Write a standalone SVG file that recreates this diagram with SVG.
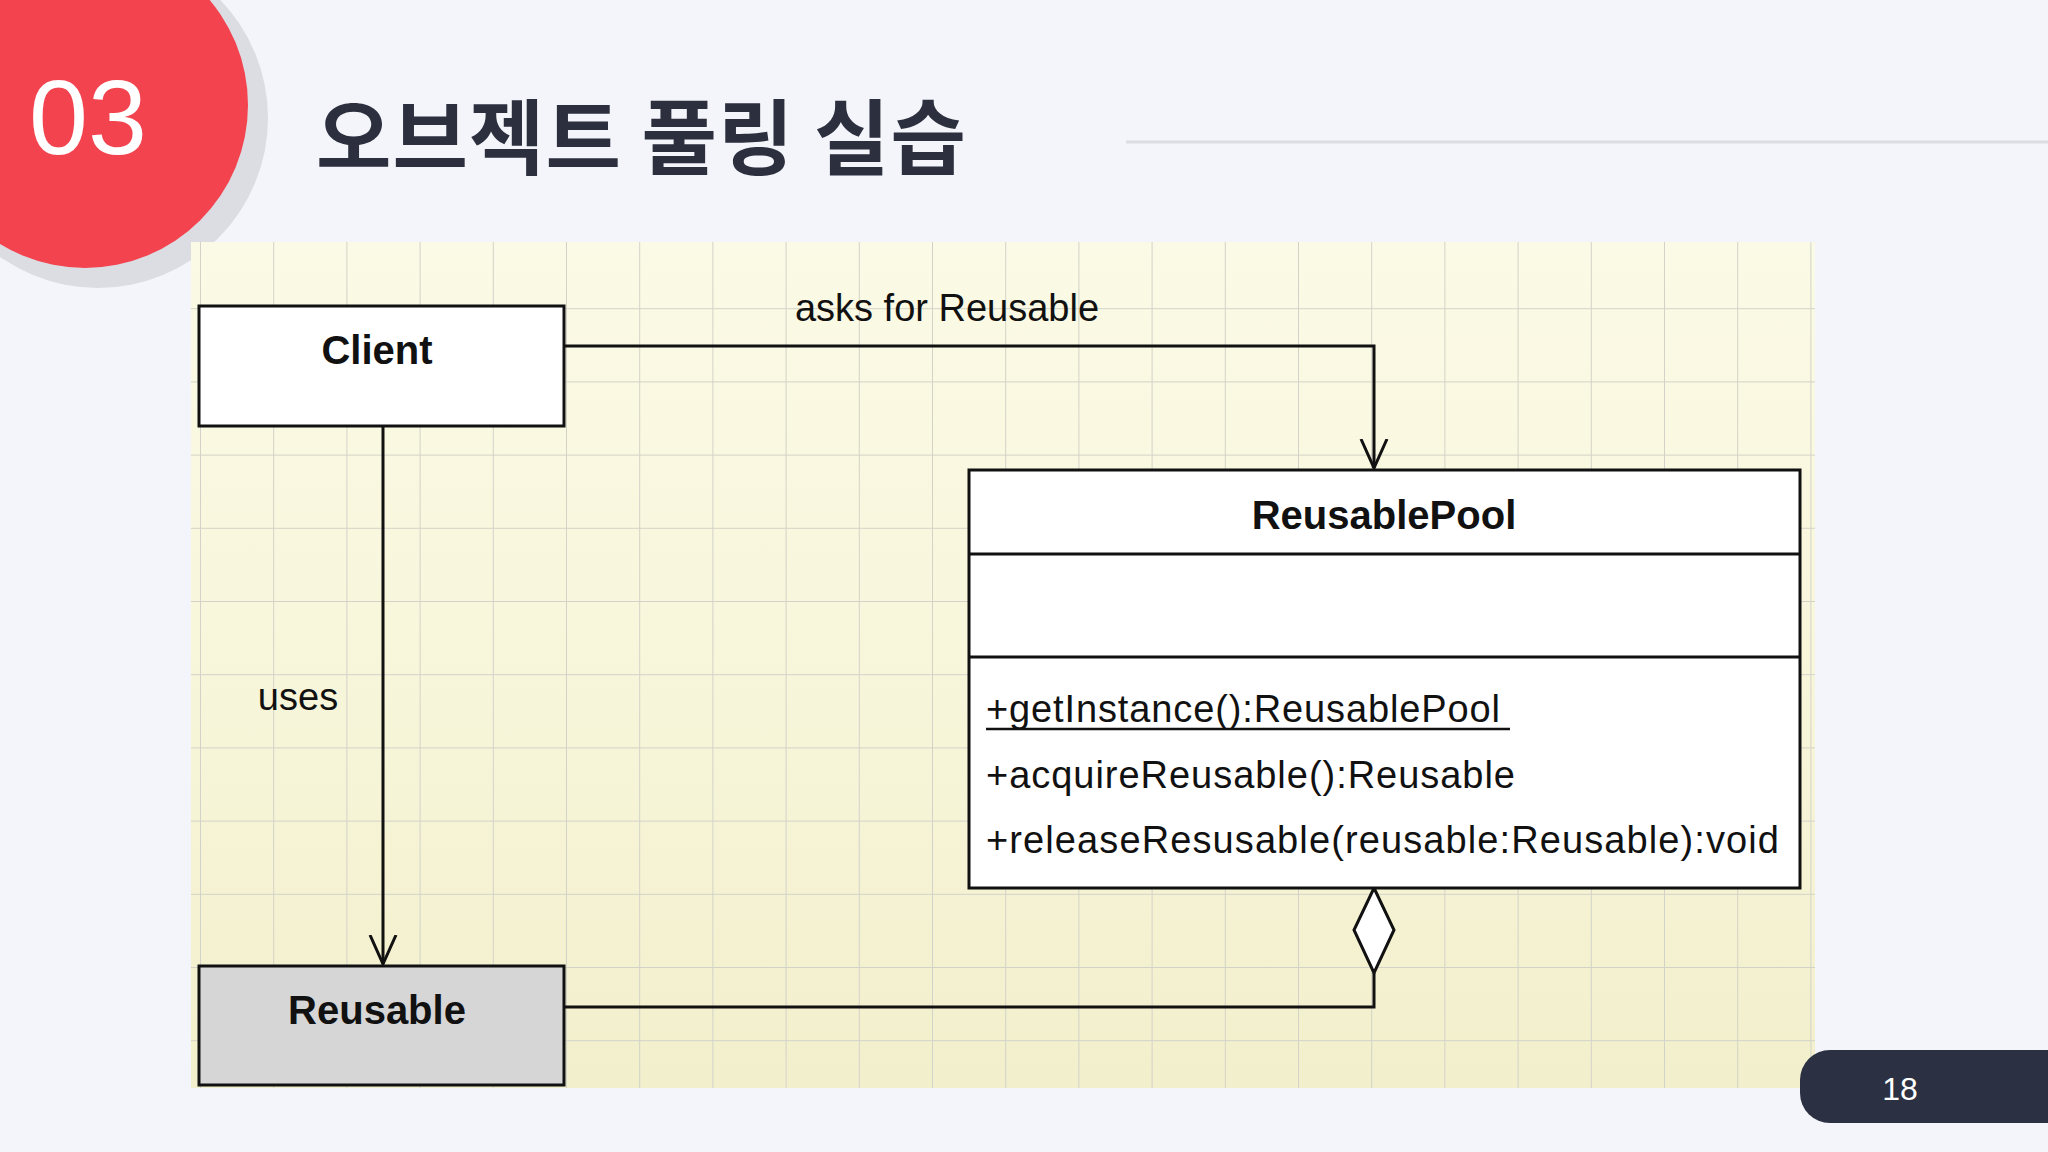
<svg xmlns="http://www.w3.org/2000/svg" width="2048" height="1152" viewBox="0 0 2048 1152">
<style>
.box{stroke:#111;stroke-width:3;fill:#fff}
.t{font-family:"Liberation Sans",Arial,sans-serif;fill:#111}
.b{font-weight:bold;font-size:40px;text-anchor:middle}
.m{font-size:38px}
.c{stroke:#111;stroke-width:3;fill:none}
</style>
<defs>
<pattern id="grid" x="200" y="235" width="73.2" height="73.2" patternUnits="userSpaceOnUse">
<path d="M0 0H73.2M0 0V73.2" stroke="#d2d2c8" stroke-width="2" fill="none"/>
</pattern>
<linearGradient id="bg" x1="0" y1="0" x2="0" y2="1">
<stop offset="0" stop-color="#fbfae6"/><stop offset="0.6" stop-color="#f7f5d8"/><stop offset="1" stop-color="#f2efcc"/>
</linearGradient>
<marker id="open" markerWidth="32" markerHeight="32" refX="29" refY="15" orient="auto" markerUnits="userSpaceOnUse" viewBox="0 0 32 30">
<path d="M0 2L29 15L0 28" stroke="#111" stroke-width="3" fill="none"/>
</marker>
</defs>
<rect width="2048" height="1152" fill="#f4f5fa"/>
<circle cx="98" cy="118" r="170" fill="#dcdde2"/>
<circle cx="85" cy="105" r="163" fill="#f2434f"/>
<text x="29" y="154" font-family="Liberation Sans,Arial,sans-serif" font-size="106" fill="#fff">03</text>
<text x="316" y="168" font-family="Noto Sans CJK KR,sans-serif" font-weight="bold" font-size="82" fill="#2b2f3e" textLength="650">오브젝트 풀링 실습</text>
<line x1="1126" y1="142" x2="2048" y2="142" stroke="#dcdde2" stroke-width="3"/>
<rect x="191" y="242" width="1624" height="846" fill="url(#bg)"/>
<rect x="191" y="242" width="1624" height="846" fill="url(#grid)"/>
<g id="connectors">
<path class="c" d="M564 346H1374V468" marker-end="url(#open)"/>
<path class="c" d="M383 426V964" marker-end="url(#open)"/>
<path class="c" d="M564 1007H1374V973"/>
<path d="M1374 888L1394 930L1374 973L1354 930Z" stroke="#111" stroke-width="3" fill="#fff"/>
<text class="t" x="947" y="321" font-size="38" text-anchor="middle" fill="#333">asks for Reusable</text>
<text class="t" x="298" y="710" font-size="38" text-anchor="middle" fill="#333">uses</text>
</g>
<g id="client">
<rect class="box" x="199" y="306" width="365" height="120"/>
<text class="t b" x="377" y="364">Client</text>
</g>
<g id="reusable">
<rect class="box" x="199" y="966" width="365" height="119" style="fill:#d6d6d6"/>
<text class="t b" x="377" y="1024">Reusable</text>
</g>
<g id="pool">
<rect class="box" x="969" y="470" width="831" height="418"/>
<line x1="969" y1="554" x2="1800" y2="554" stroke="#111" stroke-width="3"/>
<line x1="969" y1="657" x2="1800" y2="657" stroke="#111" stroke-width="3"/>
<text class="t b" x="1384" y="529">ReusablePool</text>
<text class="t m" x="986" y="722" textLength="514">+getInstance():ReusablePool</text>
<line x1="986" y1="729" x2="1510" y2="729" stroke="#111" stroke-width="2.5"/>
<text class="t m" x="986" y="788" textLength="529">+acquireReusable():Reusable</text>
<text class="t m" x="986" y="853" textLength="793">+releaseResusable(reusable:Reusable):void</text>
</g>
<path d="M1830 1050H2048V1123H1830A30 30 0 0 1 1800 1093V1080A30 30 0 0 1 1830 1050Z" fill="#2b3042"/>
<text x="1900" y="1100" font-family="Liberation Sans,Arial,sans-serif" font-size="32" fill="#fff" text-anchor="middle">18</text>
</svg>
